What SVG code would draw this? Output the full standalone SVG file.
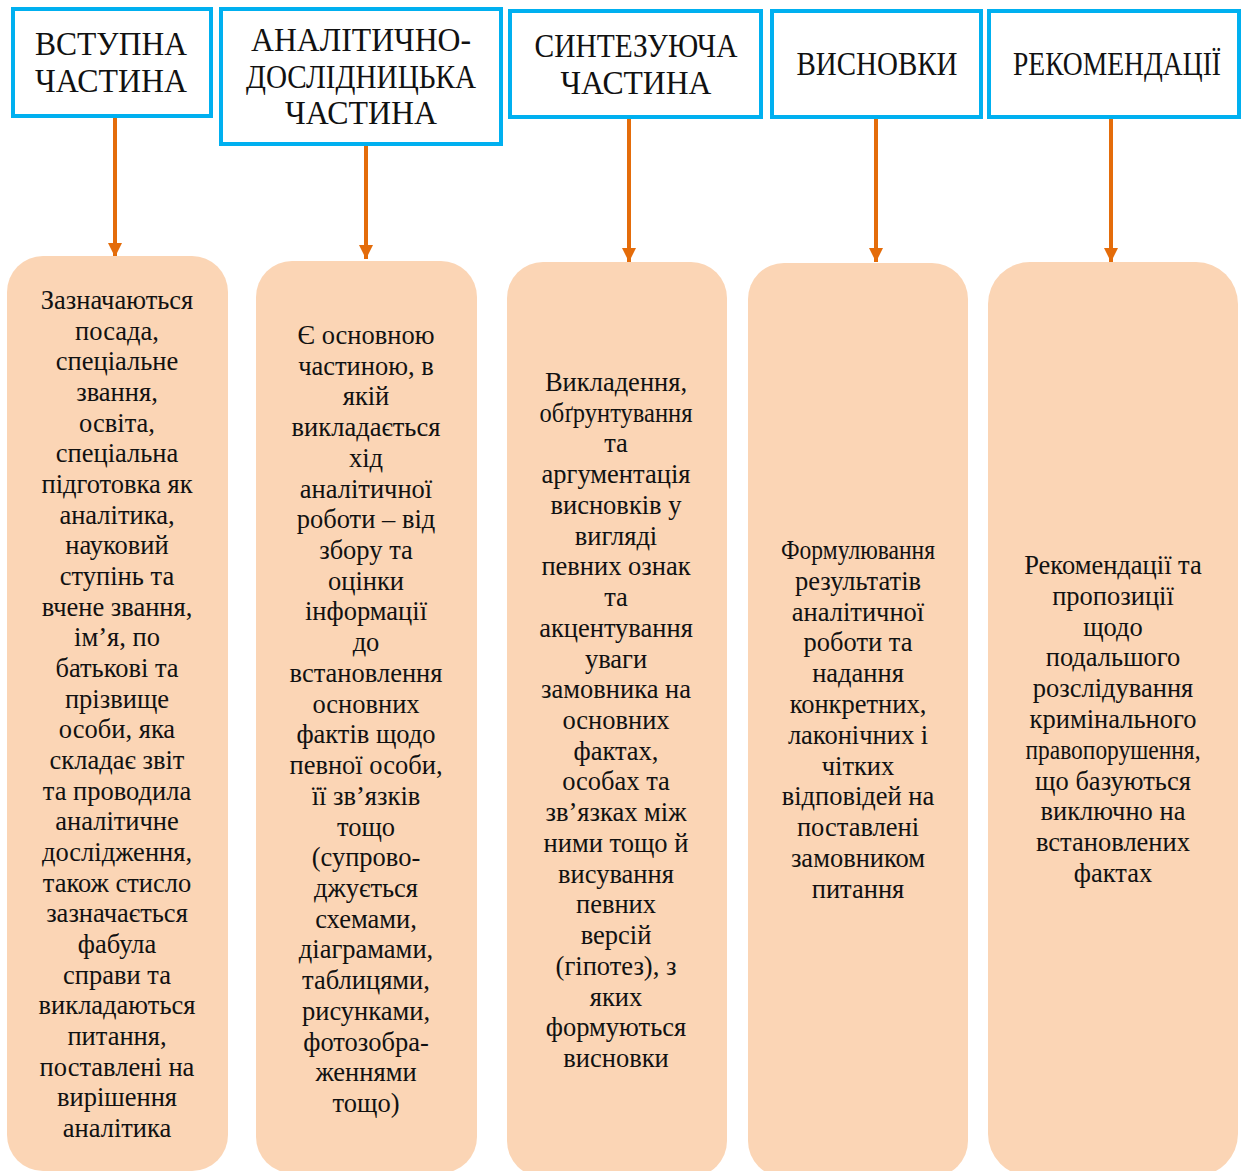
<svg xmlns="http://www.w3.org/2000/svg" width="1242" height="1171" viewBox="0 0 1242 1171">
<style>
.hdr{fill:#fff;stroke:#00B0F0;stroke-width:4}
.ht{font-family:"Liberation Serif","Times New Roman",serif;font-size:33px;fill:#111;text-anchor:middle}
.card{fill:#FBD5B5}
.bt{font-family:"Liberation Serif","Times New Roman",serif;font-size:26.5px;fill:#111;text-anchor:middle}
.conn{stroke:#E46C0A;stroke-width:4;fill:none}
</style>
<defs>
<marker id="ah" viewBox="0 0 10 10" refX="10" refY="5" markerWidth="3.6" markerHeight="4.5" markerUnits="strokeWidth" orient="auto">
<path d="M0,0L10,5L0,10z" fill="#E46C0A"/>
</marker>
</defs>
<rect width="1242" height="1171" fill="#fff"/>
<g id="connectors">
<line class="conn" x1="115" y1="117" x2="115" y2="257" marker-end="url(#ah)"/>
<line class="conn" x1="366" y1="146" x2="366" y2="259" marker-end="url(#ah)"/>
<line class="conn" x1="629" y1="119" x2="629" y2="262" marker-end="url(#ah)"/>
<line class="conn" x1="876" y1="119" x2="876" y2="262" marker-end="url(#ah)"/>
<line class="conn" x1="1111" y1="119" x2="1111" y2="262" marker-end="url(#ah)"/>
</g>
<g id="h1">
<rect class="hdr" x="13" y="9" width="198" height="107"/>
<text class="ht" x="111" y="55" textLength="152" lengthAdjust="spacingAndGlyphs">ВСТУПНА</text>
<text class="ht" x="111" y="92" textLength="152" lengthAdjust="spacingAndGlyphs">ЧАСТИНА</text>
</g>
<g id="h2">
<rect class="hdr" x="221" y="9" width="280" height="135"/>
<text class="ht" x="361" y="51" textLength="220" lengthAdjust="spacingAndGlyphs">АНАЛІТИЧНО-</text>
<text class="ht" x="361" y="88" textLength="230" lengthAdjust="spacingAndGlyphs">ДОСЛІДНИЦЬКА</text>
<text class="ht" x="361" y="124" textLength="152" lengthAdjust="spacingAndGlyphs">ЧАСТИНА</text>
</g>
<g id="h3">
<rect class="hdr" x="510" y="11" width="251" height="106"/>
<text class="ht" x="636" y="57" textLength="203" lengthAdjust="spacingAndGlyphs">СИНТЕЗУЮЧА</text>
<text class="ht" x="636" y="94" textLength="151" lengthAdjust="spacingAndGlyphs">ЧАСТИНА</text>
</g>
<g id="h4">
<rect class="hdr" x="772" y="11" width="209" height="106"/>
<text class="ht" x="877" y="75" textLength="161" lengthAdjust="spacingAndGlyphs">ВИСНОВКИ</text>
</g>
<g id="h5">
<rect class="hdr" x="989" y="11" width="250" height="106"/>
<text class="ht" x="1117" y="75" textLength="208" lengthAdjust="spacingAndGlyphs">РЕКОМЕНДАЦІЇ</text>
</g>
<g id="c1">
<rect class="card" x="7" y="256" width="221" height="915" rx="36"/>
<text class="bt" y="309">
<tspan x="117">Зазначаються</tspan><tspan x="117" dy="30.67">посада,</tspan><tspan x="117" dy="30.67">спеціальне</tspan><tspan x="117" dy="30.67">звання,</tspan><tspan x="117" dy="30.67">освіта,</tspan><tspan x="117" dy="30.67">спеціальна</tspan><tspan x="117" dy="30.67">підготовка як</tspan><tspan x="117" dy="30.67">аналітика,</tspan><tspan x="117" dy="30.67">науковий</tspan><tspan x="117" dy="30.67">ступінь та</tspan><tspan x="117" dy="30.67">вчене звання,</tspan><tspan x="117" dy="30.67">ім’я, по</tspan><tspan x="117" dy="30.67">батькові та</tspan><tspan x="117" dy="30.67">прізвище</tspan><tspan x="117" dy="30.67">особи, яка</tspan><tspan x="117" dy="30.67">складає звіт</tspan><tspan x="117" dy="30.67">та проводила</tspan><tspan x="117" dy="30.67">аналітичне</tspan><tspan x="117" dy="30.67">дослідження,</tspan><tspan x="117" dy="30.67">також стисло</tspan><tspan x="117" dy="30.67">зазначається</tspan><tspan x="117" dy="30.67">фабула</tspan><tspan x="117" dy="30.67">справи та</tspan><tspan x="117" dy="30.67">викладаються</tspan><tspan x="117" dy="30.67">питання,</tspan><tspan x="117" dy="30.67">поставлені на</tspan><tspan x="117" dy="30.67">вирішення</tspan><tspan x="117" dy="30.67">аналітика</tspan>
</text>
</g>
<g id="c2">
<rect class="card" x="256" y="261" width="221" height="912" rx="36"/>
<text class="bt" y="344">
<tspan x="366">Є основною</tspan><tspan x="366" dy="30.72">частиною, в</tspan><tspan x="366" dy="30.72">якій</tspan><tspan x="366" dy="30.72">викладається</tspan><tspan x="366" dy="30.72">хід</tspan><tspan x="366" dy="30.72">аналітичної</tspan><tspan x="366" dy="30.72">роботи – від</tspan><tspan x="366" dy="30.72">збору та</tspan><tspan x="366" dy="30.72">оцінки</tspan><tspan x="366" dy="30.72">інформації</tspan><tspan x="366" dy="30.72">до</tspan><tspan x="366" dy="30.72">встановлення</tspan><tspan x="366" dy="30.72">основних</tspan><tspan x="366" dy="30.72">фактів щодо</tspan><tspan x="366" dy="30.72">певної особи,</tspan><tspan x="366" dy="30.72">її зв’язків</tspan><tspan x="366" dy="30.72">тощо</tspan><tspan x="366" dy="30.72">(супрово-</tspan><tspan x="366" dy="30.72">джується</tspan><tspan x="366" dy="30.72">схемами,</tspan><tspan x="366" dy="30.72">діаграмами,</tspan><tspan x="366" dy="30.72">таблицями,</tspan><tspan x="366" dy="30.72">рисунками,</tspan><tspan x="366" dy="30.72">фотозобра-</tspan><tspan x="366" dy="30.72">женнями</tspan><tspan x="366" dy="30.72">тощо)</tspan>
</text>
</g>
<g id="c3">
<rect class="card" x="507" y="262" width="220" height="915" rx="36"/>
<text class="bt" y="391">
<tspan x="616">Викладення,</tspan><tspan x="616" dy="30.73" textLength="153" lengthAdjust="spacingAndGlyphs">обґрунтування</tspan><tspan x="616" dy="30.73">та</tspan><tspan x="616" dy="30.73">аргументація</tspan><tspan x="616" dy="30.73">висновків у</tspan><tspan x="616" dy="30.73">вигляді</tspan><tspan x="616" dy="30.73">певних ознак</tspan><tspan x="616" dy="30.73">та</tspan><tspan x="616" dy="30.73">акцентування</tspan><tspan x="616" dy="30.73">уваги</tspan><tspan x="616" dy="30.73">замовника на</tspan><tspan x="616" dy="30.73">основних</tspan><tspan x="616" dy="30.73">фактах,</tspan><tspan x="616" dy="30.73">особах та</tspan><tspan x="616" dy="30.73">зв’язках між</tspan><tspan x="616" dy="30.73">ними тощо й</tspan><tspan x="616" dy="30.73">висування</tspan><tspan x="616" dy="30.73">певних</tspan><tspan x="616" dy="30.73">версій</tspan><tspan x="616" dy="30.73">(гіпотез), з</tspan><tspan x="616" dy="30.73">яких</tspan><tspan x="616" dy="30.73">формуються</tspan><tspan x="616" dy="30.73">висновки</tspan>
</text>
</g>
<g id="c4">
<rect class="card" x="748" y="263" width="220" height="914" rx="36"/>
<text class="bt" y="559">
<tspan x="858" textLength="154" lengthAdjust="spacingAndGlyphs">Формулювання</tspan><tspan x="858" dy="30.8">результатів</tspan><tspan x="858" dy="30.8">аналітичної</tspan><tspan x="858" dy="30.8">роботи та</tspan><tspan x="858" dy="30.8">надання</tspan><tspan x="858" dy="30.8">конкретних,</tspan><tspan x="858" dy="30.8">лаконічних і</tspan><tspan x="858" dy="30.8">чітких</tspan><tspan x="858" dy="30.8">відповідей на</tspan><tspan x="858" dy="30.8">поставлені</tspan><tspan x="858" dy="30.8">замовником</tspan><tspan x="858" dy="30.8">питання</tspan>
</text>
</g>
<g id="c5">
<rect class="card" x="988" y="262" width="250" height="914" rx="42"/>
<text class="bt" y="574">
<tspan x="1113">Рекомендації та</tspan><tspan x="1113" dy="30.8">пропозиції</tspan><tspan x="1113" dy="30.8">щодо</tspan><tspan x="1113" dy="30.8">подальшого</tspan><tspan x="1113" dy="30.8">розслідування</tspan><tspan x="1113" dy="30.8">кримінального</tspan><tspan x="1113" dy="30.8" textLength="175" lengthAdjust="spacingAndGlyphs">правопорушення,</tspan><tspan x="1113" dy="30.8">що базуються</tspan><tspan x="1113" dy="30.8">виключно на</tspan><tspan x="1113" dy="30.8">встановлених</tspan><tspan x="1113" dy="30.8">фактах</tspan>
</text>
</g>
</svg>
